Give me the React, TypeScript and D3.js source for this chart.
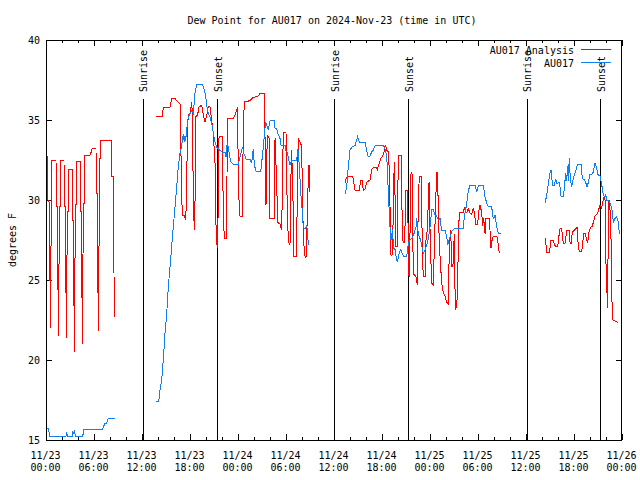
import React from "react";
import * as d3 from "d3";

// time values are hours after 2024-11-23 00:00 UTC, values in degrees F
const START = Date.UTC(2024, 10, 23);
const END = Date.UTC(2024, 10, 26);
const title = "Dew Point for AU017 on 2024-Nov-23 (time in UTC)";
const yLabel = "degrees F";
const yTicks = [15, 20, 25, 30, 35, 40];
const sunriseHours = [12.08, 36.05, 60.08];
const sunsetHours = [21.4, 45.3, 69.3];
const seriesNames = ["AU017 Analysis", "AU017"];

const analysisSeg1: [number, number][] = [
  [0.06, 32.7], [0.21, 32.7], [0.23, 30.0], [0.44, 29.8], [0.48, 25.0], [0.54, 25.0], [0.56, 22.0], [0.6, 25.0],
  [0.66, 29.6], [0.75, 32.5], [1.25, 32.5], [1.29, 29.6], [1.41, 29.6], [1.44, 24.4], [1.54, 24.4], [1.56, 21.5],
  [1.6, 24.4], [1.69, 29.6], [1.81, 29.6], [1.84, 32.5], [2.25, 32.5], [2.27, 29.6], [2.41, 29.6], [2.44, 24.2],
  [2.52, 24.2], [2.55, 21.4], [2.6, 24.2], [2.66, 29.3], [2.81, 29.3], [2.84, 31.9], [3.29, 31.9], [3.31, 28.7],
  [3.41, 28.7], [3.44, 23.4], [3.5, 23.4], [3.52, 20.5], [3.6, 23.4], [3.66, 29.7], [3.76, 29.7], [3.79, 32.4],
  [4.29, 32.4], [4.31, 29.3], [4.4, 29.3], [4.42, 23.9], [4.5, 23.9], [4.54, 21.0], [4.6, 23.9], [4.66, 29.8],
  [4.76, 29.8], [4.79, 32.8], [5.5, 32.8], [5.52, 33.0], [5.71, 33.0], [5.75, 33.2], [6.25, 33.2], [6.27, 30.4],
  [6.4, 30.4], [6.42, 24.2], [6.5, 24.2], [6.54, 21.8], [6.6, 24.2], [6.66, 30.7], [6.74, 30.7], [6.76, 33.7],
  [8.21, 33.7], [8.24, 31.5], [8.39, 31.5], [8.41, 25.5], [8.5, 25.5], [8.52, 22.7],
];

const analysisSeg2: [number, number][] = [
  [13.75, 35.25], [14.56, 35.25], [14.66, 35.8], [15.5, 35.8], [15.71, 36.35], [16.13, 36.35], [16.41, 36.15],
  [16.75, 36.0], [16.84, 34.4], [16.91, 31.25], [17.04, 29.06], [17.29, 29.06], [17.46, 28.75], [17.59, 30.4],
  [17.66, 34.2], [17.79, 35.3], [18.0, 35.4], [18.21, 36.1], [18.31, 35.2], [18.41, 30.2], [18.54, 28.1],
  [18.63, 30.0], [18.71, 35.2], [18.94, 35.3], [19.13, 35.8], [19.38, 35.9], [19.54, 35.8], [19.66, 35.3],
  [19.88, 34.9], [20.09, 35.3], [20.29, 35.87], [20.5, 35.8], [20.71, 35.0], [20.91, 34.2], [21.13, 32.3],
  [21.21, 29.0], [21.34, 27.3], [21.46, 27.0], [21.54, 30.5], [21.63, 34.0], [22.04, 34.0], [22.09, 32.0],
  [22.16, 29.3], [22.29, 27.6], [22.59, 27.6], [22.66, 35.1], [23.41, 35.1], [23.63, 35.3], [23.96, 35.8],
  [24.04, 30.7], [24.25, 29.0], [24.54, 29.0], [24.66, 34.3], [24.79, 36.15], [25.5, 36.2], [25.71, 36.35],
  [25.91, 36.4], [26.54, 36.5], [26.75, 36.67], [27.29, 36.67], [27.34, 35.0], [27.41, 33.0], [27.5, 29.7],
  [27.66, 34.06], [27.88, 33.85], [28.0, 28.85], [28.54, 28.85], [28.63, 33.85], [28.84, 31.0], [28.96, 28.6],
  [29.25, 28.5], [29.46, 28.1], [29.66, 34.2], [30.0, 34.2], [30.09, 31.0], [30.29, 27.4], [30.5, 27.2],
  [30.59, 31.0], [30.71, 33.1], [30.91, 29.3], [31.0, 26.5], [31.34, 26.5], [31.41, 31.0], [31.54, 33.85],
  [31.84, 33.5], [31.96, 33.5], [32.09, 28.85], [32.16, 28.5], [32.29, 26.56], [32.5, 26.4], [32.66, 28.85],
  [32.75, 30.7], [32.88, 32.2], [32.9, 30.5],
];

const analysisSeg3: [number, number][] = [
  [37.38, 31.1], [37.5, 31.3], [37.66, 31.5], [38.34, 31.5], [38.63, 30.6], [39.16, 30.6], [39.34, 31.25],
  [39.5, 31.25], [39.66, 30.6], [39.88, 30.7], [40.09, 31.1], [40.5, 31.25], [40.71, 31.9], [40.91, 32.04],
  [41.25, 32.04], [41.41, 31.9], [41.66, 32.3], [41.84, 32.6], [42.09, 32.75], [42.25, 33.0], [42.38, 33.4],
  [42.5, 33.3], [42.59, 33.1], [42.79, 33.0], [42.91, 31.9], [43.0, 29.6], [43.13, 26.5], [43.34, 26.6],
  [43.41, 30.0], [43.54, 32.4], [43.63, 30.2], [43.75, 27.1], [43.91, 27.1], [43.96, 29.5], [44.04, 32.8],
  [44.38, 32.8], [44.46, 30.2], [44.59, 27.5], [44.75, 27.3], [44.88, 28.4], [45.0, 30.6], [45.16, 30.6],
  [45.29, 27.7], [45.38, 25.2], [45.5, 27.9], [45.63, 31.7], [45.75, 31.7], [45.84, 28.1], [45.91, 25.4],
  [46.25, 25.2], [46.34, 24.9], [46.41, 24.7], [46.46, 27.3], [46.54, 29.8], [46.66, 31.5], [46.88, 31.5],
  [46.96, 30.0], [47.04, 26.7], [47.16, 25.2], [47.38, 25.2], [47.5, 27.5], [47.71, 28.3], [47.79, 30.3],
  [47.88, 31.1], [47.96, 29.0], [48.09, 26.5], [48.21, 24.8], [48.41, 24.7], [48.54, 27.0], [48.71, 29.9],
  [48.84, 31.7], [48.96, 31.7], [49.04, 29.0], [49.25, 26.5], [49.46, 24.8], [49.66, 24.2], [49.88, 24.0],
  [50.09, 23.6], [50.29, 23.5], [50.41, 27.0], [50.59, 28.1], [50.71, 25.8], [50.88, 26.0], [51.04, 27.9],
  [51.13, 24.3], [51.21, 23.2], [51.34, 23.3], [51.46, 24.8], [51.54, 27.4], [51.66, 29.2], [51.96, 29.25],
  [52.16, 29.2], [52.29, 29.5], [52.46, 29.3], [52.59, 29.2], [52.79, 29.45], [53.0, 29.2], [53.21, 29.1],
  [53.41, 29.5], [53.54, 29.2], [53.71, 28.5], [53.96, 28.5], [54.13, 29.4], [54.25, 29.7], [54.38, 29.4],
  [54.46, 29.2], [54.59, 28.4], [54.71, 28.85], [54.88, 27.9], [54.96, 28.85], [55.38, 28.85], [55.5, 28.1],
  [55.63, 27.0], [55.71, 27.4], [55.91, 27.75], [56.34, 27.75], [56.46, 27.5], [56.54, 27.1], [56.66, 26.7],
];

const analysisSeg4: [number, number][] = [
  [62.38, 27.6], [62.5, 27.2], [62.59, 26.7], [62.88, 26.7], [63.0, 27.0], [63.13, 27.5], [63.41, 27.5],
  [63.54, 27.2], [63.71, 27.1], [63.96, 27.1], [64.13, 27.8], [64.25, 28.2], [64.46, 28.2], [64.54, 27.8],
  [64.66, 27.3], [64.88, 27.3], [65.09, 28.1], [65.38, 28.1], [65.5, 27.4], [65.63, 27.25], [65.79, 28.0],
  [66.04, 28.1], [66.21, 28.2], [66.38, 28.3], [66.54, 27.1], [66.66, 26.8], [66.96, 26.8], [67.09, 27.3],
  [67.21, 27.9], [67.38, 27.9], [67.59, 27.5], [67.71, 27.3], [67.79, 27.7], [67.91, 28.1], [68.13, 28.3],
  [68.29, 28.35], [68.41, 28.6], [68.63, 29.0], [68.84, 29.1], [69.04, 29.3], [69.25, 29.7], [69.34, 29.6],
  [69.46, 29.5], [69.59, 29.8], [69.66, 30.1], [69.79, 30.2], [69.88, 30.0], [69.96, 29.0], [70.0, 26.0],
  [70.09, 25.1], [70.16, 23.3], [70.21, 23.3], [70.29, 29.0], [70.38, 30.0], [70.46, 30.0], [70.63, 27.5],
  [70.71, 24.2], [70.84, 22.5], [71.34, 22.4], [71.46, 22.35],
];

const stationSeg1: [number, number][] = [
  [0.09, 15.73], [0.31, 15.7], [0.46, 15.25], [2.5, 15.25], [2.56, 15.5], [2.69, 15.25], [3.31, 15.25],
  [3.35, 15.5], [3.5, 15.4], [3.56, 15.5], [3.69, 15.25], [4.59, 15.25], [4.75, 15.67], [7.09, 15.67],
  [7.19, 15.85], [7.38, 16.04], [7.56, 16.04], [7.79, 16.35], [8.63, 16.35],
];

const stationSeg2: [number, number][] = [
  [13.79, 17.4], [14.09, 17.4], [14.25, 18.1], [14.46, 18.75], [14.66, 20.0], [14.88, 21.7], [15.09, 22.9],
  [15.29, 24.6], [15.5, 25.8], [15.71, 27.1], [15.91, 28.3], [16.13, 29.6], [16.34, 30.8], [16.54, 32.1],
  [16.75, 32.9], [16.96, 33.4], [17.16, 34.1], [17.29, 33.6], [17.38, 34.0], [17.46, 33.7], [17.71, 35.0],
  [18.0, 35.4], [18.21, 35.6], [18.41, 35.4], [18.63, 36.7], [18.84, 37.25], [19.54, 37.25], [19.79, 36.9],
  [19.96, 36.5], [20.09, 35.9], [20.29, 35.4], [20.5, 35.2], [20.71, 34.8], [20.91, 34.2], [21.13, 33.6],
  [21.34, 33.3], [21.75, 33.1], [22.04, 33.0], [22.38, 33.0], [22.5, 32.7], [22.66, 33.6], [22.91, 32.9],
  [23.09, 32.4], [23.41, 32.25], [24.04, 32.25], [24.34, 32.9], [24.59, 33.3], [24.75, 32.9], [25.0, 32.56],
  [25.5, 32.56], [25.71, 32.3], [25.91, 33.2], [26.04, 32.2], [26.25, 31.8], [26.84, 31.8], [27.04, 32.7],
  [27.16, 33.3], [27.29, 34.06], [27.46, 34.9], [27.79, 34.4], [28.0, 34.96], [28.54, 34.96], [28.63, 34.5],
  [28.84, 34.5], [28.96, 34.17], [29.25, 33.85], [29.38, 33.4], [29.88, 33.4], [30.0, 33.06], [30.16, 33.0],
  [30.34, 32.5], [30.5, 32.2], [30.71, 32.44], [31.34, 32.44], [31.46, 33.2], [31.54, 33.1], [31.66, 32.1],
  [31.84, 30.5], [32.0, 29.5], [32.16, 28.3], [32.38, 28.2], [32.59, 28.4], [32.69, 28.0], [32.79, 27.2],
];

const stationSeg3: [number, number][] = [
  [37.38, 30.4], [37.59, 30.8], [37.79, 32.1], [38.0, 33.1], [38.21, 33.3], [38.63, 33.4], [38.84, 33.75],
  [38.96, 33.96], [39.16, 33.6], [39.88, 33.6], [40.09, 33.1], [40.29, 32.7], [40.5, 32.75], [40.71, 33.0],
  [40.91, 33.1], [41.13, 33.4], [42.16, 33.4], [42.38, 33.2], [42.59, 32.7], [42.71, 31.7], [42.79, 30.2],
  [42.91, 29.3], [43.0, 28.3], [43.13, 27.5], [43.34, 28.2], [43.41, 27.0], [43.63, 26.9], [43.75, 26.5],
  [43.91, 26.1], [44.16, 26.7], [44.34, 26.9], [44.5, 26.7], [44.66, 26.5], [45.09, 26.5], [45.29, 27.3],
  [45.5, 27.5], [45.75, 27.6], [46.0, 27.9], [46.25, 28.3], [46.34, 28.85], [46.54, 27.9], [46.75, 27.6],
  [46.96, 27.2], [47.16, 26.67], [47.38, 26.9], [47.59, 27.2], [47.79, 27.6], [48.0, 28.3], [48.21, 29.4],
  [48.41, 29.4], [48.63, 29.06], [48.84, 29.0], [49.04, 28.75], [49.25, 28.85], [49.46, 28.1], [49.88, 28.1],
  [50.09, 27.7], [50.21, 27.2], [50.38, 27.5], [50.63, 27.9], [50.79, 28.1], [51.04, 28.2], [52.16, 28.2],
  [52.29, 29.0], [52.46, 29.4], [52.59, 29.8], [52.79, 30.6], [53.0, 30.9], [53.63, 30.9], [53.84, 30.5],
  [54.04, 30.9], [54.66, 30.9], [54.88, 30.2], [55.09, 29.8], [55.29, 29.6], [55.71, 29.6], [55.84, 29.0],
  [55.96, 28.85], [56.13, 29.06], [56.34, 28.3], [56.54, 27.9], [56.84, 27.9],
];

const stationSeg4: [number, number][] = [
  [62.38, 29.8], [62.59, 30.3], [62.79, 31.0], [63.0, 31.7], [63.13, 31.9], [63.21, 31.4], [63.34, 30.9],
  [63.54, 30.9], [63.71, 31.3], [63.88, 31.0], [64.13, 31.1], [64.25, 30.8], [64.38, 30.25], [64.66, 30.25],
  [64.79, 30.7], [64.96, 31.7], [65.09, 31.2], [65.21, 32.1], [65.29, 31.2], [65.41, 32.6], [65.54, 31.3],
  [65.71, 30.8], [65.84, 31.2], [66.04, 31.6], [66.21, 31.8], [66.41, 32.2], [66.88, 32.2], [67.04, 31.35],
  [67.29, 31.25], [67.46, 31.1], [67.63, 30.8], [67.79, 31.1], [68.0, 31.6], [68.21, 31.6], [68.41, 31.75],
  [68.63, 32.3], [68.84, 32.0], [68.96, 31.6], [69.25, 31.5], [69.46, 31.0], [69.54, 30.7], [69.66, 30.3],
  [69.88, 30.2], [69.96, 30.4], [70.09, 30.0], [70.29, 30.0], [70.5, 29.8], [70.71, 29.5], [70.79, 29.3],
  [70.91, 28.6], [71.13, 28.85], [71.34, 28.95], [71.54, 28.6], [71.66, 27.9],
];

const analysisSegments = [analysisSeg1, analysisSeg2, analysisSeg3, analysisSeg4];
const stationSegments = [stationSeg1, stationSeg2, stationSeg3, stationSeg4];

const RED = "#ff0000";
const BLUE = "#1080f0";
const FONT = "'DejaVu Sans Mono', 'Liberation Mono', monospace";

export default function App() {
  const W = 640;
  const H = 480;
  const left = 46, right = 622, top = 40, bottom = 440;
  const x = d3.scaleUtc().domain([new Date(START), new Date(END)]).range([left, right]);
  const y = d3.scaleLinear().domain([15, 40]).range([bottom, top]);
  const tx = (h: number) => x(new Date(START + h * 3600e3));
  const line = d3
    .line<[number, number]>()
    .x((d) => tx(d[0]))
    .y((d) => y(d[1]));
  const majorTicks = x.ticks(d3.utcHour.every(6)!);
  const minorTicks = x.ticks(d3.utcHour.every(2)!);
  const fDate = d3.utcFormat("%m/%d");
  const fTime = d3.utcFormat("%H:%M");
  const px = (v: number) => Math.round(v) + 0.5;

  const events = [
    ...sunriseHours.map((h) => ({ h, label: "Sunrise" })),
    ...sunsetHours.map((h) => ({ h, label: "Sunset" })),
  ];

  return (
    <svg
      width={W}
      height={H}
      style={{ position: "absolute", left: 0, top: 0, background: "#fff" }}
      fontFamily={FONT}
      fontSize={10}
    >
      <rect x={0} y={0} width={W} height={H} fill="#fff" />
      <text x={332} y={23.5} textAnchor="middle" fill="#000">
        {title}
      </text>
      <text transform={`translate(15.5,240) rotate(-90)`} textAnchor="middle" fill="#000">
        {yLabel}
      </text>

      {/* minor x ticks */}
      {minorTicks.map((t, i) => (
        <g key={"mn" + i} stroke="#000" shapeRendering="crispEdges">
          <line x1={px(x(t))} x2={px(x(t))} y1={bottom} y2={bottom - 3} />
          <line x1={px(x(t))} x2={px(x(t))} y1={top} y2={top + 3} />
        </g>
      ))}
      {majorTicks.map((t, i) => (
        <g key={"mj" + i}>
          <line x1={px(x(t))} x2={px(x(t))} y1={bottom} y2={bottom - 6} stroke="#000" shapeRendering="crispEdges" />
          <line x1={px(x(t))} x2={px(x(t))} y1={top} y2={top + 6} stroke="#000" shapeRendering="crispEdges" />
          <text x={x(t) - 0.5} y={458.5} textAnchor="middle" fill="#000">
            {fDate(t)}
          </text>
          <text x={x(t) - 0.5} y={471} textAnchor="middle" fill="#000">
            {fTime(t)}
          </text>
        </g>
      ))}
      {yTicks.map((v) => (
        <g key={"y" + v}>
          <line x1={left} x2={left + 6} y1={px(y(v))} y2={px(y(v))} stroke="#000" shapeRendering="crispEdges" />
          <line x1={right - 6} x2={right} y1={px(y(v))} y2={px(y(v))} stroke="#000" shapeRendering="crispEdges" />
          <text x={40} y={y(v) + 3.8} textAnchor="end" fill="#000">
            {v}
          </text>
        </g>
      ))}

      {/* sunrise / sunset markers */}
      {events.map((e, i) => (
        <g key={"ev" + i}>
          <line x1={px(tx(e.h))} x2={px(tx(e.h))} y1={99} y2={bottom} stroke="#000" strokeWidth={1} shapeRendering="crispEdges" />
          <text transform={`translate(${tx(e.h) + 4.5},92) rotate(-90)`} textAnchor="start" fill="#000">
            {e.label}
          </text>
        </g>
      ))}

      {/* data */}
      {analysisSegments.map((s, i) => (
        <path key={"a" + i} d={line(s) || ""} fill="none" stroke={RED} strokeWidth={1} shapeRendering="crispEdges" />
      ))}
      {stationSegments.map((s, i) => (
        <path key={"s" + i} d={line(s) || ""} fill="none" stroke={BLUE} strokeWidth={1} shapeRendering="crispEdges" />
      ))}

      {/* frame */}
      <rect
        x={left + 0.5}
        y={top + 0.5}
        width={right - left - 1}
        height={bottom - top}
        fill="none"
        stroke="#000"
        shapeRendering="crispEdges"
      />

      {/* legend */}
      <text x={574} y={53.5} textAnchor="end" fill="#000">
        {seriesNames[0]}
      </text>
      <line x1={581} x2={611} y1={49.5} y2={49.5} stroke={RED} shapeRendering="crispEdges" />
      <text x={574} y={66.5} textAnchor="end" fill="#000">
        {seriesNames[1]}
      </text>
      <line x1={581} x2={611} y1={62.5} y2={62.5} stroke={BLUE} shapeRendering="crispEdges" />
    </svg>
  );
}
